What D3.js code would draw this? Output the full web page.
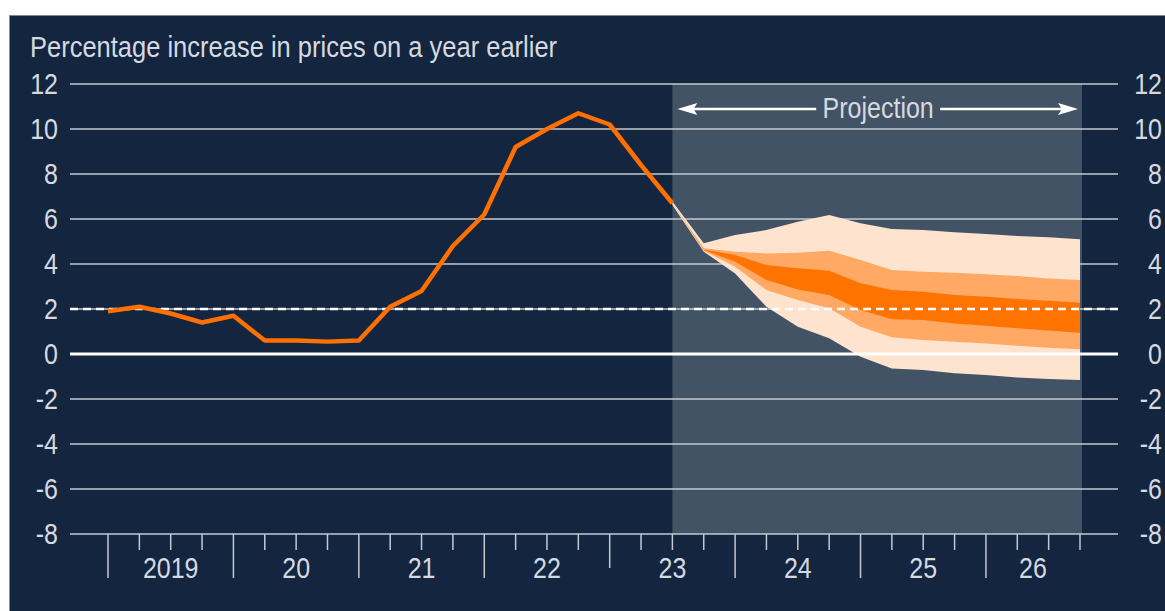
<!DOCTYPE html>
<html>
<head>
<meta charset="utf-8">
<script src="https://cdn.jsdelivr.net/npm/d3@7"></script>
<style>
  body { margin: 0; background: #ffffff; }
  svg { display: block; font-family: "Liberation Sans", Arial, sans-serif; }
</style>
</head>
<body>
<div id="wrapper"></div>
<script>
// history: CPI inflation, quarterly
const histQuarters = [
  "2019Q1", "2019Q2", "2019Q3", "2019Q4",
  "2020Q1", "2020Q2", "2020Q3", "2020Q4",
  "2021Q1", "2021Q2", "2021Q3", "2021Q4",
  "2022Q1", "2022Q2", "2022Q3", "2022Q4",
  "2023Q1", "2023Q2", "2023Q3",
];
const histValues = [
  1.9, 2.1, 1.8, 1.4,
  1.7, 0.6, 0.6, 0.55,
  0.6, 2.1, 2.8, 4.8,
  6.2, 9.2, 10.0, 10.7,
  10.2, 8.4, 6.7,
];

// fan chart projection bands
const fanQuarters = [
  "2023Q3", "2023Q4",
  "2024Q1", "2024Q2", "2024Q3", "2024Q4",
  "2025Q1", "2025Q2", "2025Q3", "2025Q4",
  "2026Q1", "2026Q2", "2026Q3", "2026Q4",
];
const outerUpper = [6.78, 4.92, 5.29, 5.51, 5.88, 6.18, 5.81, 5.56, 5.51, 5.41, 5.33, 5.24, 5.19, 5.1];
const outerLower = [6.62, 4.55, 3.58, 2.1, 1.21, 0.7, -0.12, -0.64, -0.71, -0.86, -0.93, -1.04, -1.11, -1.16];
const midUpper = [6.7, 4.7, 4.55, 4.47, 4.5, 4.59, 4.18, 3.73, 3.66, 3.61, 3.54, 3.47, 3.36, 3.29];
const midLower = [6.7, 4.59, 3.88, 2.84, 2.4, 2.03, 1.21, 0.74, 0.62, 0.55, 0.47, 0.37, 0.28, 0.21];
const darkUpper = [6.7, 4.65, 4.4, 3.96, 3.81, 3.7, 3.14, 2.84, 2.77, 2.62, 2.55, 2.44, 2.37, 2.28];
const darkLower = [6.7, 4.62, 4.1, 3.29, 2.87, 2.62, 1.96, 1.54, 1.51, 1.36, 1.26, 1.14, 1.04, 0.95];

// axes
const yTicks = [12, 10, 8, 6, 4, 2, 0, -2, -4, -6, -8];
const years = [2019, 2020, 2021, 2022, 2023, 2024, 2025, 2026];
const yearLabels = ["2019", "20", "21", "22", "23", "24", "25", "26"];
const targetRate = 2;
const projectionStart = "2023Q3";
const axisEnd = "2026Q4";

const titleText = "Percentage increase in prices on a year earlier";
const projectionText = "Projection";

const parseQ = (s) => +s.slice(0, 4) + (+s.slice(5) - 1) / 4;

const width = 1165;
const height = 611;
const stretch = 1.15;
const fontSize = 25;

const colors = {
  bg: "#13253f",
  shade: "#435366",
  grid: "#c3c9d1",
  text: "#d6dae0",
  line: "#ff7000",
  light: "#fee3cf",
  mid: "#ffa965",
  dark: "#ff7400",
};

const xScale = d3.scaleLinear()
  .domain([parseQ(histQuarters[0]), parseQ(axisEnd)])
  .range([108, 1080]);

const yScale = d3.scaleLinear()
  .domain([-8, 12])
  .range([534, 84]);

const gridLeft = 70;
const gridRight = 1118;

const svg = d3.select("#wrapper")
  .append("svg")
  .attr("width", width)
  .attr("height", height);

svg.append("rect")
  .attr("x", 9.5)
  .attr("y", 15.5)
  .attr("width", width)
  .attr("height", height)
  .attr("fill", colors.bg)
  .attr("stroke", "#7d8898")
  .attr("stroke-width", 1);

// stretched text helper
function addText(x, y, str, anchor, size) {
  return svg.append("text")
    .attr("transform", `translate(${x},${y}) scale(1,${stretch})`)
    .attr("text-anchor", anchor || "start")
    .attr("fill", colors.text)
    .attr("font-size", size || fontSize)
    .text(str);
}

addText(30, 57, titleText, "start", 25.5);

// projection shading
const x0 = xScale(parseQ(projectionStart));
const x1 = xScale(parseQ(axisEnd));
svg.append("rect")
  .attr("x", x0)
  .attr("y", yScale(12))
  .attr("width", x1 - x0 + 2)
  .attr("height", yScale(-8) - yScale(12))
  .attr("fill", colors.shade);

// gridlines
svg.append("g")
  .selectAll("line")
  .data(yTicks.filter((d) => d !== 0))
  .join("line")
  .attr("x1", gridLeft)
  .attr("x2", gridRight)
  .attr("y1", (d) => yScale(d))
  .attr("y2", (d) => yScale(d))
  .attr("stroke", colors.grid)
  .attr("stroke-width", 1.4);

// y labels both sides
const capShift = fontSize * 0.716 * stretch / 2;
yTicks.forEach((t) => {
  addText(58, yScale(t) + capShift, t, "end");
  addText(1162, yScale(t) + capShift, t, "end");
});

// fan
const fanData = fanQuarters.map((q, i) => ({
  x: parseQ(q),
  o0: outerLower[i], o1: outerUpper[i],
  m0: midLower[i], m1: midUpper[i],
  d0: darkLower[i], d1: darkUpper[i],
}));

const band = (lo, hi) => d3.area()
  .x((d) => xScale(d.x))
  .y0((d) => yScale(d[lo]))
  .y1((d) => yScale(d[hi]));

svg.append("path").datum(fanData).attr("d", band("o0", "o1")).attr("fill", colors.light);
svg.append("path").datum(fanData).attr("d", band("m0", "m1")).attr("fill", colors.mid);
svg.append("path").datum(fanData).attr("d", band("d0", "d1")).attr("fill", colors.dark);

// zero line and target line
svg.append("line")
  .attr("x1", gridLeft).attr("x2", gridRight)
  .attr("y1", yScale(0)).attr("y2", yScale(0))
  .attr("stroke", "#ffffff")
  .attr("stroke-width", 3);

svg.append("line")
  .attr("x1", gridLeft).attr("x2", gridRight)
  .attr("y1", yScale(targetRate)).attr("y2", yScale(targetRate))
  .attr("stroke", "#ffffff")
  .attr("stroke-width", 2.5)
  .attr("stroke-dasharray", "8 5");

// history line
const histData = histQuarters.map((q, i) => ({ x: parseQ(q), v: histValues[i] }));
svg.append("path")
  .datum(histData)
  .attr("d", d3.line().x((d) => xScale(d.x)).y((d) => yScale(d.v)))
  .attr("fill", "none")
  .attr("stroke", colors.line)
  .attr("stroke-width", 4.5)
  .attr("stroke-linejoin", "round");

// x axis ticks (quarterly)
const axisY = yScale(-8);
const quarterTicks = d3.range(0, (parseQ(axisEnd) - years[0]) * 4 + 1).map((i) => years[0] + i / 4);
svg.append("g")
  .selectAll("line")
  .data(quarterTicks)
  .join("line")
  .attr("x1", (d) => xScale(d))
  .attr("x2", (d) => xScale(d))
  .attr("y1", axisY)
  .attr("y2", (d) => {
    if (d % 1 !== 0) return axisY + 16;
    if (d === 2023) return axisY + 34;
    return axisY + 44;
  })
  .attr("stroke", colors.grid)
  .attr("stroke-width", 1.5);

years.forEach((yr, i) => {
  const end = Math.min(yr + 1, parseQ(axisEnd));
  addText((xScale(yr) + xScale(end)) / 2, 578, yearLabels[i], "middle");
});

// projection arrow
const arrowY = 109;
const textMid = (x0 + x1) / 2 + 2;
addText(textMid, 118, projectionText, "middle");
const gap = 62;
svg.append("line")
  .attr("x1", x0 + 18).attr("x2", textMid - gap)
  .attr("y1", arrowY).attr("y2", arrowY)
  .attr("stroke", "#ffffff").attr("stroke-width", 2.5);
svg.append("line")
  .attr("x1", textMid + gap).attr("x2", x1 - 18)
  .attr("y1", arrowY).attr("y2", arrowY)
  .attr("stroke", "#ffffff").attr("stroke-width", 2.5);
svg.append("path")
  .attr("d", `M${x0 + 5},${arrowY} L${x0 + 25},${arrowY - 6} L${x0 + 21},${arrowY} L${x0 + 25},${arrowY + 6} Z`)
  .attr("fill", "#ffffff");
svg.append("path")
  .attr("d", `M${x1 - 2},${arrowY} L${x1 - 22},${arrowY - 6} L${x1 - 18},${arrowY} L${x1 - 22},${arrowY + 6} Z`)
  .attr("fill", "#ffffff");
</script>
</body>
</html>
